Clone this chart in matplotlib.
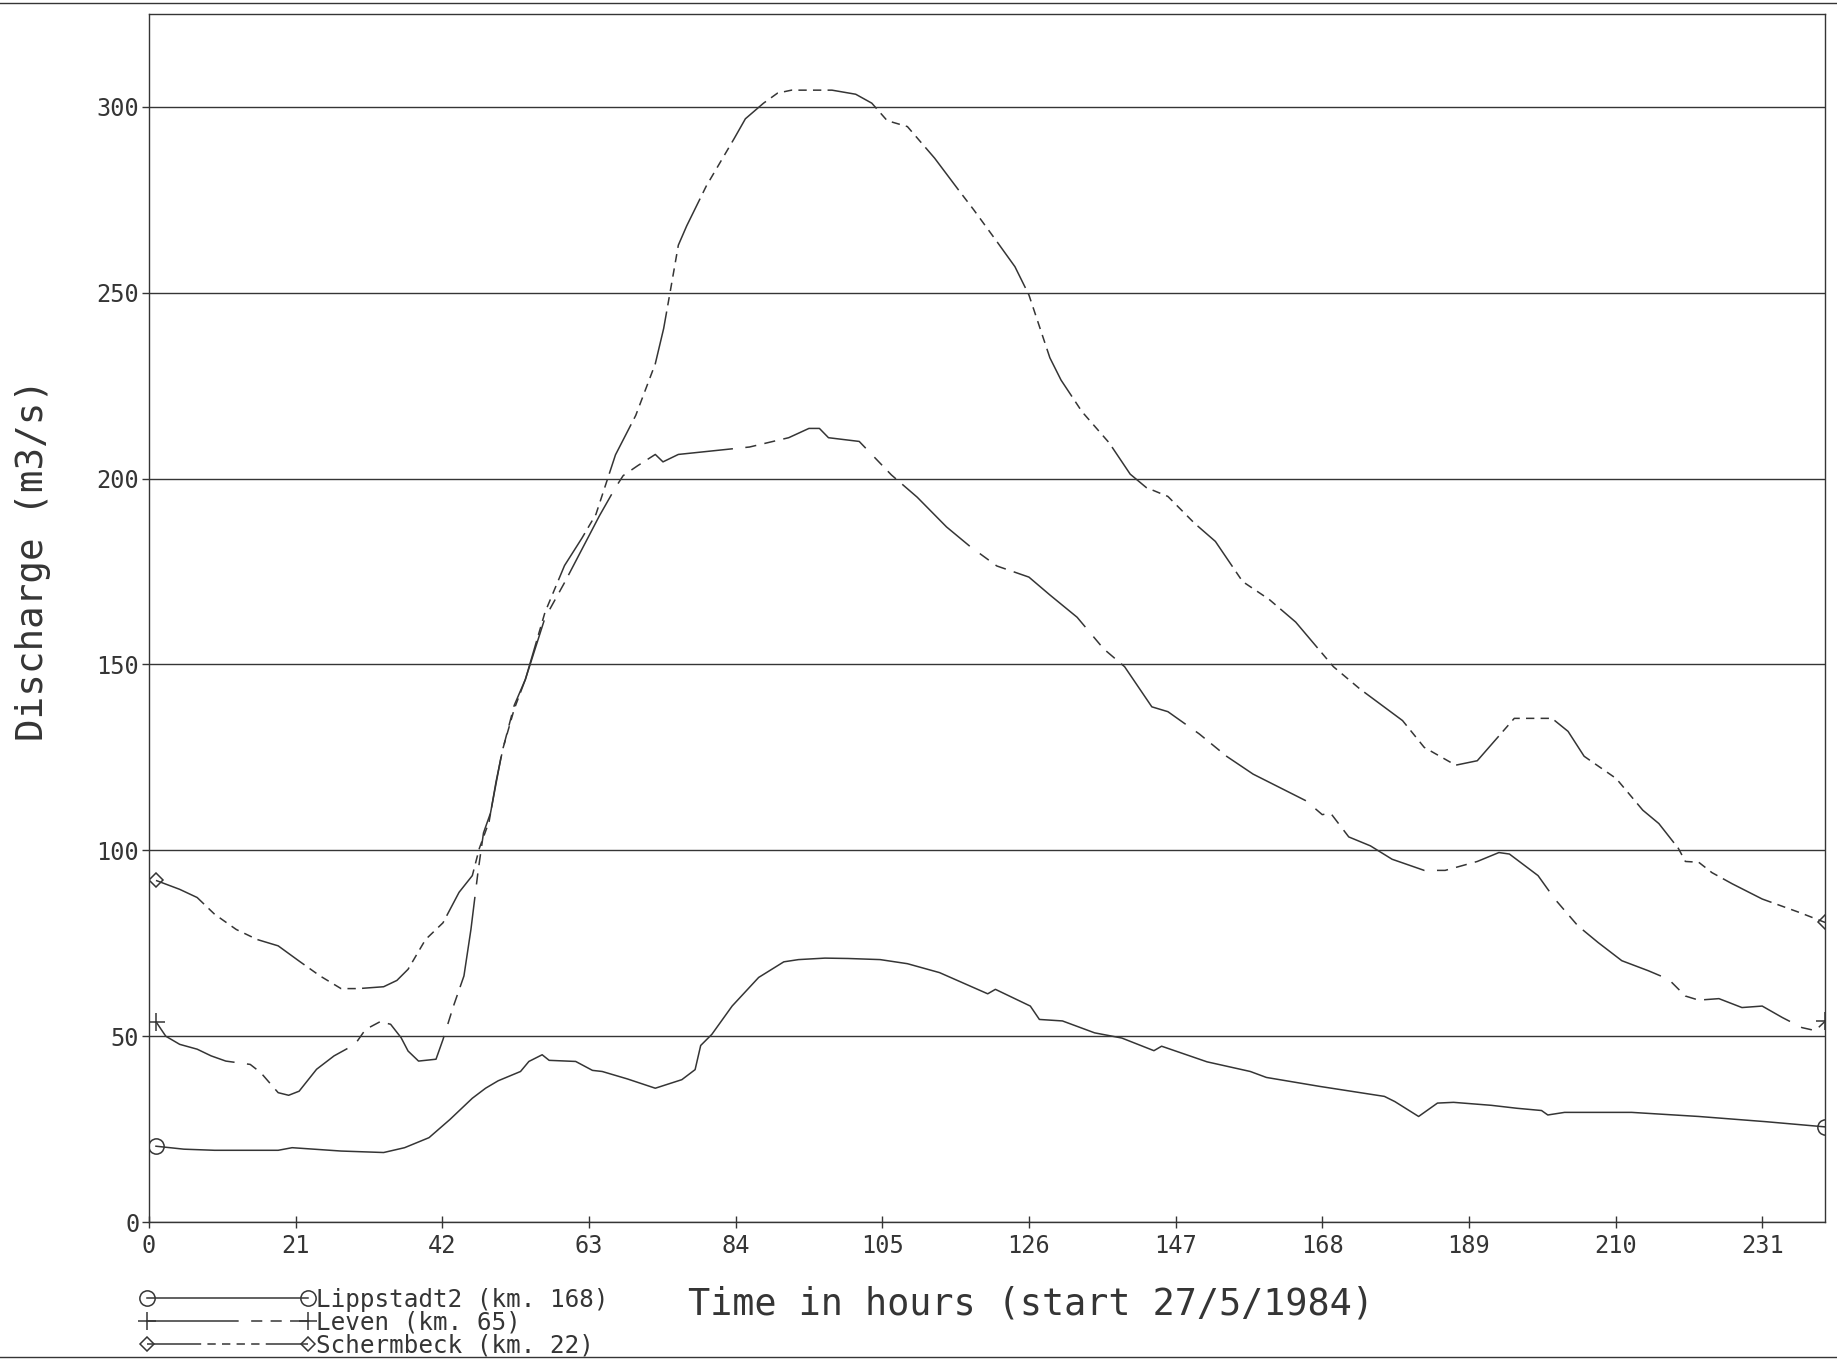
import matplotlib
matplotlib.use("Agg")
import matplotlib.pyplot as plt
from matplotlib.lines import Line2D

plt.rcParams["font.family"] = ["DejaVu Sans Mono", "DejaVu Sans"]
plt.rcParams["lines.scale_dashes"] = False

INK = "#353535"

# Lippstadt2 (km. 168)
t_lip = [1, 5, 9.4, 18.5, 20.5, 27.5, 33.6, 36.6, 40.1, 43.1, 46.3, 48.2, 50,
         53.2, 54.4, 56.3, 57.3, 61.1, 63.5, 64.9, 68.5, 72.5, 76.3, 78.2, 79.0,
         80.6, 83.5, 87.3, 90.9, 93, 96.8, 100.1, 104.7, 108.6, 113.2, 120.1,
         121.2, 126.2, 127.5, 130.8, 135.4, 139.3, 143.9, 145.0, 151.5, 157.7,
         160, 167.6, 176.9, 178.4, 181.8, 184.5, 186.8, 192.2, 195.9, 199.4,
         200.3, 202.7, 212.3, 221.9, 231.5, 240]
q_lip = [20.4, 19.6, 19.3, 19.3, 20.0, 19.1, 18.7, 20.0, 22.7, 27.6, 33.3, 36.0,
         38.0, 40.5, 43.2, 45.0, 43.5, 43.2, 40.8, 40.5, 38.5, 36.0, 38.3, 41.0,
         47.5, 50.5, 58.1, 65.8, 70.0, 70.6, 71.0, 70.9, 70.6, 69.5, 67.1, 61.4,
         62.6, 58.1, 54.5, 54.1, 50.9, 49.5, 46.1, 47.3, 43.1, 40.5, 38.9, 36.5,
         33.8, 32.4, 28.4, 32.0, 32.2, 31.4, 30.6, 30.0, 28.8, 29.5, 29.5, 28.4,
         27.0, 25.6]

# Leven (km. 65)
t_lev = [1, 2.4, 4.4, 6.9, 8.9, 11, 14.5, 16, 18.5, 20, 21.5, 24, 26.5, 29.5,
         31, 33.1, 34.6, 36.1, 37.1, 38.6, 41.1, 42.1, 43.6, 45.1, 46.1, 47.1,
         47.9, 48.9, 50.5, 52.3, 53.9, 56.7, 59.5, 62, 64.5, 66.8, 67.9, 70,
         72.5, 73.6, 75.8, 80.9, 86, 91.6, 94.5, 96, 97.3, 101.7, 106.3, 110,
         114.2, 117.6, 121.4, 126, 129, 132.9, 136.7, 139.7, 143.6, 145.9,
         150.4, 154.3, 158.1, 161.9, 165.7, 168, 169.2, 171.8, 174.9, 178,
         182.6, 185.6, 190.2, 193.3, 194.8, 198.9, 201.3, 204.6, 207.5, 210.9,
         214.7, 217.6, 220, 221.9, 224.8, 228.1, 231, 233.9, 236.7, 238.6, 240]
q_lev = [53.9, 50, 47.8, 46.5, 44.7, 43.3, 42.4, 40.2, 34.8, 34.1, 35.2, 41.1,
         44.7, 47.8, 51.8, 53.9, 53.2, 49.6, 46, 43.3, 43.8, 49.1, 58.1, 66.2,
         78.7, 94, 104.7, 110, 126, 139, 146, 162.5, 172, 181, 190, 197.6,
         200.8, 203.5, 206.5, 204.5, 206.5, 207.5, 208.5, 211, 213.5, 213.5,
         211, 210, 201, 195, 187, 181.7, 176.5, 173.5, 168.7, 162.7, 154.2,
         149.4, 138.6, 137.3, 131.3, 125.3, 120.5, 116.9, 113.3, 109.6, 110,
         103.6, 101.2, 97.6, 94.6, 94.6, 97, 99.4, 99, 93.2, 86.9, 79.7, 75.2,
         70.3, 67.6, 65.3, 60.8, 59.7, 60.1, 57.7, 58.1, 55, 52.3, 51.5, 54]

# Schermbeck (km. 22)
t_sch = [1, 4.4, 6.9, 9.4, 12.5, 15.5, 18.5, 21.5, 24.5, 27.5, 30, 33.6, 35.5,
         37.1, 39.6, 42.1, 44.4, 46.3, 47.3, 48.7, 49.7, 50.7, 52.3, 53.9,
         56.7, 59.5, 62, 64, 66.8, 69.7, 72.5, 73.7, 74.7, 75.8, 77.0, 79.8,
         83.8, 85.4, 88, 90, 92, 97.8, 101.2, 103.5, 105.7, 108.6, 112.5,
         115.9, 118.1, 121.4, 124, 126, 129, 130.6, 133.6, 137.5, 140.5, 142.8,
         145.9, 149.7, 152.7, 156.6, 160.4, 164.2, 169.6, 173.4, 179.5, 182.6,
         187.1, 190.2, 195.5, 200.9, 203.2, 205.5, 210.1, 213.9, 216.2, 219,
         220, 221.9, 223.8, 226.7, 231, 236.3, 240]
q_sch = [91.9, 89.5, 87.3, 82.8, 78.7, 76, 74.3, 70.2, 66.2, 62.8, 62.8, 63.3,
         65, 68, 76, 80.5, 88.7, 93.2, 100.5, 107.7, 118.5, 127.5, 138, 146,
         164, 176.6, 184, 190.4, 206.4, 217, 230.9, 240.4, 251, 262.8, 268,
         278.7, 291.5, 296.8, 301, 303.7, 304.5, 304.5, 303.4, 301, 296.3,
         294.7, 286.2, 277.7, 272.3, 263.8, 257, 249.4, 232.5, 226.5, 218,
         209.6, 201.2, 197.6, 195.2, 188, 183.1, 172.3, 167.5, 161.4, 149.4,
         143.4, 134.9, 127.7, 122.9, 124.1, 135.5, 135.5, 132, 125.3, 119.3,
         110.8, 107.2, 100.5, 97, 96.8, 94, 91, 86.9, 83.3, 80.6]

x_ticks = [0, 21, 42, 63, 84, 105, 126, 147, 168, 189, 210, 231]
y_ticks = [0, 50, 100, 150, 200, 250, 300]

fig = plt.figure(figsize=(18.37, 13.68), dpi=100)
ax = fig.add_axes([0.0811, 0.1067, 0.9124, 0.8831])

ax.plot(t_lip, q_lip, color=INK, lw=1.1, marker="o", markevery=[0, -1],
        ms=11, mfc="none", mec=INK, mew=1.1, label="Lippstadt2 (km. 168)")
ax.plot(t_lev, q_lev, color=INK, lw=1.1, dashes=(66, 9, 8, 6, 8, 6),
        marker="+", markevery=[0, -1], ms=13, mec=INK, mew=1.1,
        label="Leven (km. 65)")
ax.plot(t_sch, q_sch, color=INK, lw=1.1,
        dashes=(39, 4.5, 6, 4.5, 6, 4.5, 6, 4.5, 6, 4.5),
        marker="D", markevery=[0, -1], ms=7.5, mfc="none", mec=INK, mew=1.1,
        label="Schermbeck (km. 22)")

ax.set_xlim(0, 240)
ax.set_ylim(0, 325)
ax.set_xticks(x_ticks)
ax.set_yticks(y_ticks)
ax.tick_params(axis="x", direction="inout", length=9, width=1, colors=INK,
               labelsize=17, pad=4)
ax.tick_params(axis="y", direction="out", length=5, width=1, colors=INK,
               labelsize=17, pad=2)
ax.yaxis.grid(True, color=INK, lw=1.0)
ax.set_axisbelow(True)
for sp in ax.spines.values():
    sp.set_color(INK)
    sp.set_linewidth(1.0)

fig.text(0.018, 0.591, "Discharge (m3/s)", rotation=90, ha="center",
         va="center", fontsize=27, color=INK)
fig.text(0.561, 0.047, "Time in hours (start 27/5/1984)", ha="center",
         va="center", fontsize=26.5, color=INK)

leg = ax.legend(loc="upper left", bbox_to_anchor=(0.0763, 0.0586),
                bbox_transform=fig.transFigure, frameon=False, fontsize=17.5,
                handlelength=7.2, handletextpad=0.05, labelspacing=-0.05,
                borderpad=0, borderaxespad=0, numpoints=2)
for txt in leg.get_texts():
    txt.set_color(INK)

# sheet edges
fig.add_artist(Line2D([0, 1], [0.998, 0.998], transform=fig.transFigure,
                      color=INK, lw=1.0))
fig.add_artist(Line2D([0, 1], [0.008, 0.008], transform=fig.transFigure,
                      color=INK, lw=1.0))

fig.savefig("out.png", dpi=100)
